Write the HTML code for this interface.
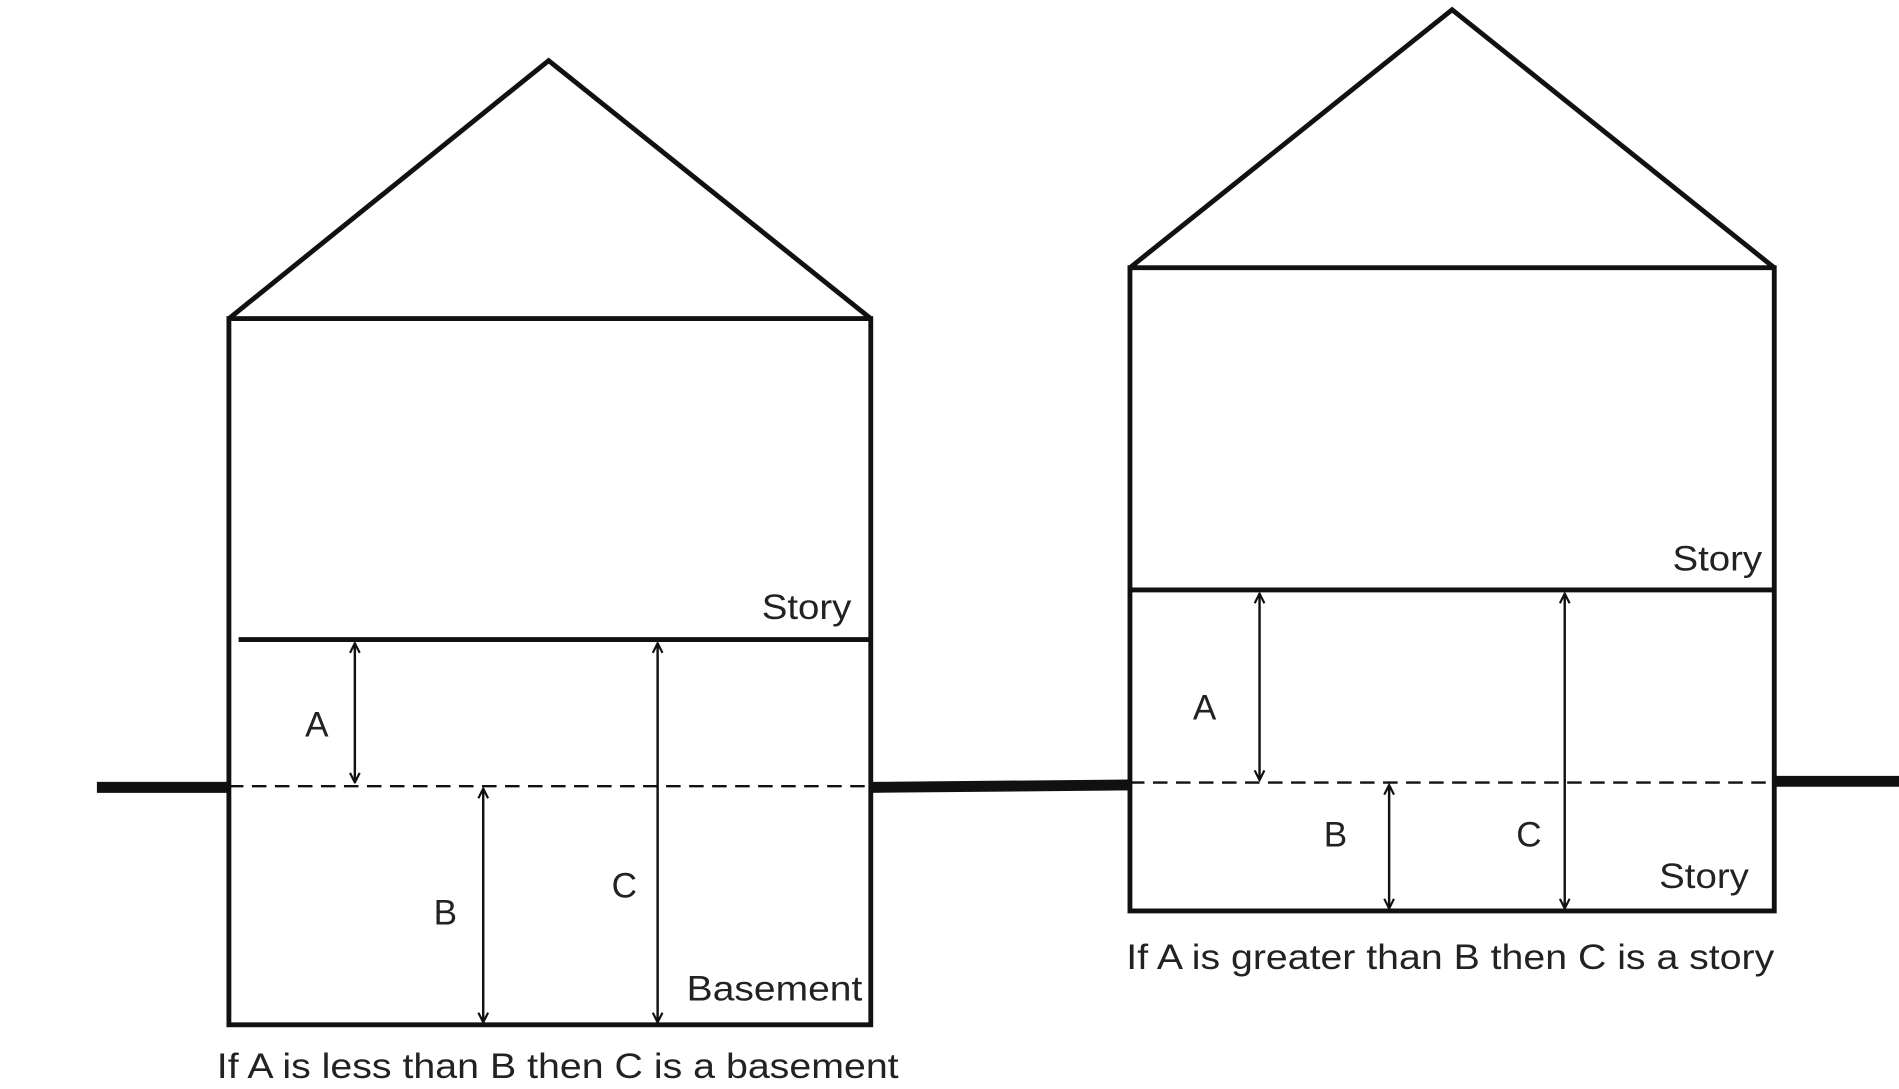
<!DOCTYPE html>
<html><head><style>html,body{margin:0;padding:0;background:#fff}svg{display:block}</style></head>
<body>
<svg width="1899" height="1089" viewBox="0 0 1568 899" preserveAspectRatio="none" xmlns="http://www.w3.org/2000/svg">
<defs>
<marker id="ah" viewBox="0 0 10 10" refX="9" refY="5" markerWidth="10" markerHeight="10" markerUnits="userSpaceOnUse" orient="auto-start-reverse">
<path d="M1,1 L9,5 L1,9" fill="none" stroke="#111" stroke-width="1.8"/>
</marker>
</defs>
<g stroke="#111" fill="none">
<!-- left house -->
<polyline points="189,263 453,50 719,263" stroke-width="4"/>
<rect x="189" y="263" width="530" height="583" stroke-width="4"/>
<line x1="197" y1="528" x2="719" y2="528" stroke-width="4"/>
<line x1="189" y1="649" x2="719" y2="649" stroke-width="2" stroke-dasharray="12,7"/>
<line x1="80" y1="650" x2="189" y2="650" stroke-width="9"/>
<line x1="719" y1="650" x2="933" y2="648" stroke-width="9"/>
<line x1="293" y1="531" x2="293" y2="646" stroke-width="2" marker-start="url(#ah)" marker-end="url(#ah)"/>
<line x1="543" y1="531" x2="543" y2="844" stroke-width="2" marker-start="url(#ah)" marker-end="url(#ah)"/>
<line x1="399" y1="651" x2="399" y2="844" stroke-width="2" marker-start="url(#ah)" marker-end="url(#ah)"/>
<!-- right house -->
<polyline points="933,221 1199,8 1465,221" stroke-width="4"/>
<rect x="933" y="221" width="532" height="531" stroke-width="4"/>
<line x1="933" y1="487" x2="1465" y2="487" stroke-width="4"/>
<line x1="933" y1="646" x2="1465" y2="646" stroke-width="2" stroke-dasharray="12,7"/>
<line x1="1465" y1="645" x2="1568" y2="645" stroke-width="9"/>
<line x1="1040" y1="490" x2="1040" y2="644" stroke-width="2" marker-start="url(#ah)" marker-end="url(#ah)"/>
<line x1="1147" y1="648" x2="1147" y2="750" stroke-width="2" marker-start="url(#ah)" marker-end="url(#ah)"/>
<line x1="1292" y1="490" x2="1292" y2="750" stroke-width="2" marker-start="url(#ah)" marker-end="url(#ah)"/>
</g>
<g font-family="'Liberation Sans', Arial, sans-serif" fill="#222" font-size="29">
<text x="252" y="608">A</text>
<text x="358" y="763">B</text>
<text x="505" y="741">C</text>
<text x="629" y="511" textLength="74" lengthAdjust="spacingAndGlyphs">Story</text>
<text x="567" y="826" textLength="145" lengthAdjust="spacingAndGlyphs">Basement</text>
<text x="179" y="890" textLength="563" lengthAdjust="spacingAndGlyphs">If A is less than B then C is a basement</text>
<text x="985" y="594">A</text>
<text x="1093" y="699">B</text>
<text x="1252" y="699">C</text>
<text x="1381" y="471" textLength="74" lengthAdjust="spacingAndGlyphs">Story</text>
<text x="1370" y="733" textLength="74" lengthAdjust="spacingAndGlyphs">Story</text>
<text x="930" y="800" textLength="535" lengthAdjust="spacingAndGlyphs">If A is greater than B then C is a story</text>
</g>
</svg>
</body></html>
